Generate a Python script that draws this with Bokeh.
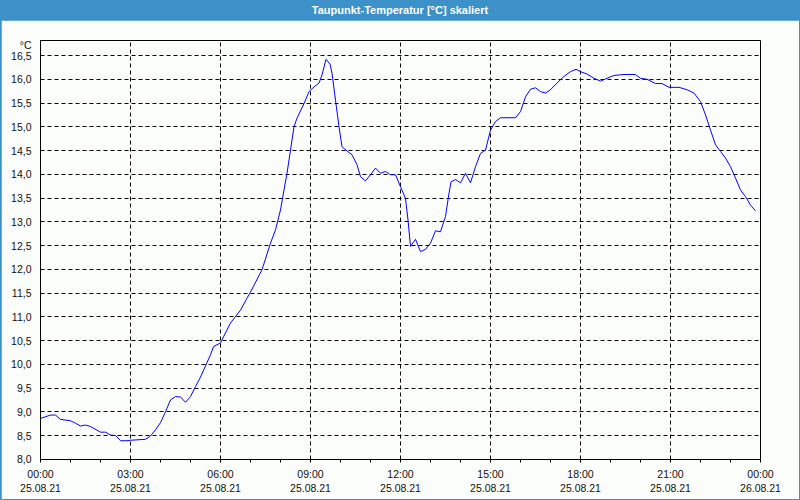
from bokeh.plotting import figure
from bokeh.models import FixedTicker, LinearAxis, Div, Range1d, Grid
from bokeh.layouts import column
from bokeh.embed import file_html
from bokeh.resources import INLINE

title_text = "Taupunkt-Temperatur [°C] skaliert"
unit_label = "°C"

# minutes since 25.08.21 00:00
minutes = [0, 20, 30, 40, 60, 70, 80, 90, 100, 120, 130, 140, 150, 160, 173, 180,
           210, 220, 230, 240, 250, 260, 270, 280, 290, 300, 310, 320, 340, 346, 360,
           380, 400, 413, 420, 443, 460, 470, 480, 487, 493, 500, 507, 513, 527, 537,
           547, 557, 563, 571, 579, 583, 590, 597, 603, 613, 623, 633, 640, 650, 660,
           670, 680, 690, 700, 710, 720, 730, 735, 740, 750, 760, 770, 780, 790, 800,
           810, 817, 821, 830, 840, 850, 860, 870, 880, 890, 900, 910, 920, 950, 960,
           970, 980, 990, 1000, 1010, 1020, 1033, 1047, 1060, 1071, 1080, 1093, 1107,
           1120, 1133, 1147, 1167, 1190, 1200, 1213, 1230, 1243, 1257, 1277, 1293,
           1307, 1320, 1330, 1340, 1350, 1360, 1370, 1380, 1390, 1400, 1410, 1420, 1430]
dewpoint = [8.86, 8.93, 8.93, 8.84, 8.81, 8.76, 8.70, 8.72, 8.69, 8.57, 8.57, 8.51, 8.50,
            8.39, 8.39, 8.40, 8.42, 8.49, 8.62, 8.77, 9.00, 9.25, 9.32, 9.31, 9.20, 9.32,
            9.53, 9.73, 10.20, 10.37, 10.45, 10.87, 11.14, 11.39, 11.52, 11.99, 12.55,
            12.83, 13.25, 13.67, 14.02, 14.51, 15.00, 15.18, 15.49, 15.74, 15.84, 15.92,
            16.09, 16.42, 16.32, 16.13, 15.56, 15.00, 14.58, 14.49, 14.41, 14.20, 13.95,
            13.86, 13.99, 14.13, 14.02, 14.06, 13.99, 13.99, 13.74, 13.49, 13.04, 12.48,
            12.63, 12.37, 12.42, 12.55, 12.81, 12.79, 13.11, 13.60, 13.84, 13.89, 13.82,
            14.02, 13.82, 14.16, 14.44, 14.51, 14.93, 15.11, 15.19, 15.19, 15.32, 15.63,
            15.79, 15.82, 15.74, 15.71, 15.78, 15.92, 16.06, 16.16, 16.21, 16.16, 16.11,
            16.02, 15.96, 16.02, 16.08, 16.10, 16.10, 16.02, 16.00, 15.91, 15.91, 15.83,
            15.83, 15.78, 15.71, 15.53, 15.25, 14.93, 14.62, 14.48, 14.34, 14.16, 13.92,
            13.67, 13.53, 13.35, 13.23]

y_ticks = [8.0, 8.5, 9.0, 9.5, 10.0, 10.5, 11.0, 11.5, 12.0, 12.5, 13.0, 13.5,
           14.0, 14.5, 15.0, 15.5, 16.0, 16.5]
y_tick_labels = ["8,0", "8,5", "9,0", "9,5", "10,0", "10,5", "11,0", "11,5", "12,0",
                 "12,5", "13,0", "13,5", "14,0", "14,5", "15,0", "15,5", "16,0", "16,5"]
unit_pos = 16.73

x_ticks = [0, 180, 360, 540, 720, 900, 1080, 1260, 1440]
x_minor = [60, 120, 240, 300, 420, 480, 600, 660, 780, 840, 960, 1020, 1140, 1200,
           1320, 1380]
time_labels = ["00:00", "03:00", "06:00", "09:00", "12:00", "15:00", "18:00", "21:00", "00:00"]
date_labels = ["25.08.21", "25.08.21", "25.08.21", "25.08.21", "25.08.21", "25.08.21",
               "25.08.21", "25.08.21", "26.08.21"]

BLUE = "#3c91c8"
BG = "#fbfdfb"
FONT = "Liberation Sans"
TXT = "#111111"

p = figure(width=798, height=479, output_backend="svg", toolbar_location=None,
           x_range=Range1d(0, 1440), y_range=Range1d(7.995, 16.816),
           x_axis_type=None, y_axis_type=None,
           min_border_left=39, min_border_right=39, min_border_top=20, min_border_bottom=40,
           background_fill_color=BG, border_fill_color=BG, margin=(0, 1, 1, 1))
p.outline_line_color = "black"
p.outline_line_width = 1

# y axis
yax = LinearAxis(ticker=FixedTicker(ticks=y_ticks + [unit_pos]))
yax.major_label_overrides = {**{t: l for t, l in zip(y_ticks, y_tick_labels)}, unit_pos: unit_label}
yax.major_tick_line_color = None
yax.minor_tick_line_color = None
yax.axis_line_color = "black"
yax.major_label_standoff = 3
yax.major_label_text_font = FONT
yax.major_label_text_font_size = "10.5px"
yax.major_label_text_color = TXT
p.add_layout(yax, "left")

# x axis: times
xax = LinearAxis(ticker=FixedTicker(ticks=x_ticks, minor_ticks=x_minor))
xax.major_label_overrides = {t: l for t, l in zip(x_ticks, time_labels)}
xax.axis_line_color = "black"
xax.major_tick_line_color = "black"
xax.minor_tick_line_color = "black"
xax.major_tick_in = 0
xax.major_tick_out = 3
xax.minor_tick_in = 0
xax.minor_tick_out = 3
xax.major_label_standoff = 5
xax.major_label_text_font = FONT
xax.major_label_text_font_size = "10.5px"
xax.major_label_text_color = TXT
p.add_layout(xax, "below")

# x axis: dates
dax = LinearAxis(ticker=FixedTicker(ticks=x_ticks))
dax.major_label_overrides = {t: l for t, l in zip(x_ticks, date_labels)}
dax.axis_line_color = None
dax.major_tick_line_color = None
dax.minor_tick_line_color = None
dax.major_tick_out = 0
dax.major_tick_in = 0
dax.minor_tick_out = 0
dax.major_label_standoff = 1
dax.major_label_text_font = FONT
dax.major_label_text_font_size = "10.5px"
dax.major_label_text_color = TXT
p.add_layout(dax, "below")

xgrid = Grid(dimension=0, ticker=FixedTicker(ticks=x_ticks))
ygrid = Grid(dimension=1, ticker=FixedTicker(ticks=y_ticks))
for g in (xgrid, ygrid):
    g.grid_line_color = "black"
    g.grid_line_dash = "4 3"
    g.grid_line_width = 1
    p.add_layout(g, "center")

p.line(minutes, dewpoint, line_color="#0000ff", line_width=1)

title = Div(text=title_text, width=800, height=20, margin=(0, 0, 0, 0),
            styles={"background-color": BLUE, "color": "white", "font-weight": "bold",
                    "font-family": FONT, "font-size": "11px", "text-align": "center",
                    "line-height": "20px", "width": "800px", "height": "20px",
                    "display": "block"})

layout = column(title, p, spacing=0, styles={"background-color": BLUE})

open("out.html", "w").write(file_html(layout, INLINE))
